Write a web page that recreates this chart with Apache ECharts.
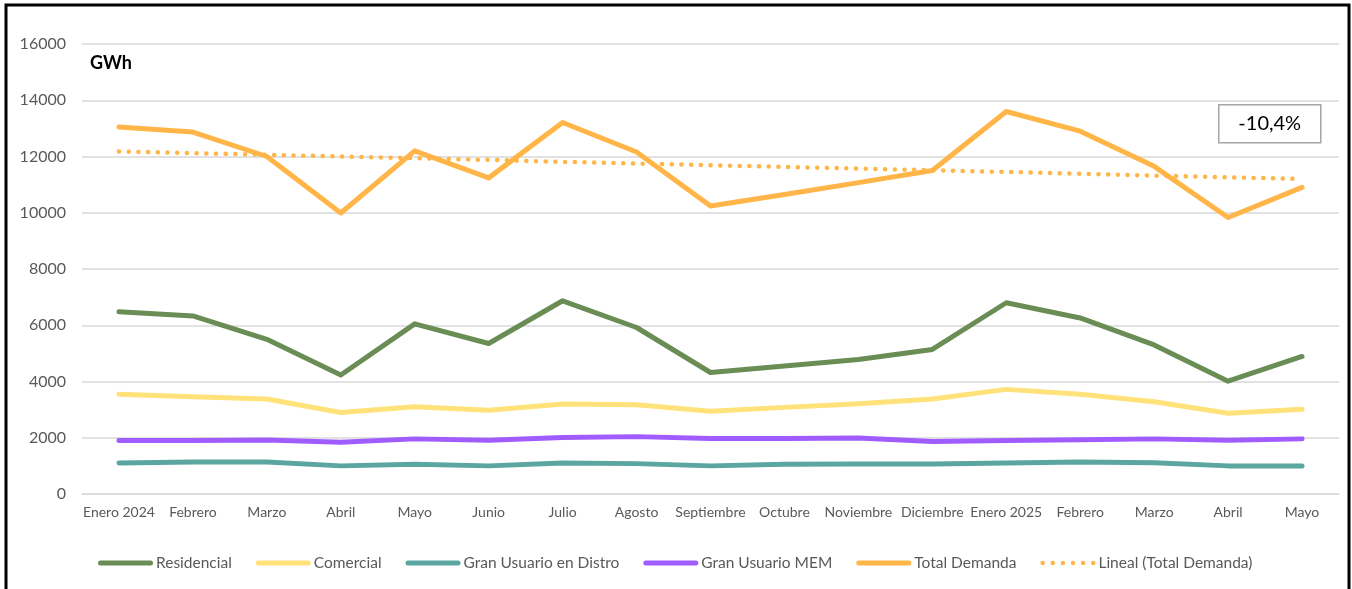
<!DOCTYPE html>
<html>
<head>
<meta charset="utf-8">
<script src="https://cdn.jsdelivr.net/npm/echarts@6/dist/echarts.min.js"></script>
<style>
html,body{margin:0;padding:0;background:#fff;}
#c{width:1352px;height:589px;}
</style>
</head>
<body>
<div id="c"></div>
<script>
const categories = ['Enero 2024','Febrero','Marzo','Abril','Mayo','Junio','Julio','Agosto','Septiembre','Octubre','Noviembre','Diciembre','Enero 2025','Febrero','Marzo','Abril','Mayo'];
const residencial = [6480,6330,5500,4230,6050,5350,6870,5920,4320,4550,4780,5140,6800,6260,5300,4010,4890];
const comercial = [3550,3460,3380,2900,3100,2980,3200,3170,2940,3080,3210,3380,3720,3550,3280,2870,3010];
const granUsuarioDistro = [1100,1140,1140,1000,1060,1000,1100,1080,1000,1060,1070,1070,1100,1140,1110,1000,1000];
const granUsuarioMEM = [1900,1900,1920,1840,1960,1910,2010,2040,1970,1970,1990,1870,1900,1930,1960,1910,1960];
const totalDemanda = [13050,12870,12000,9990,12200,11240,13210,12160,10240,10650,11070,11500,13600,12900,11650,9830,10900];
const linealTotal = [12180,12120,12060,12000,11940,11880,11810,11750,11690,11630,11570,11510,11450,11390,11320,11260,11200];
const yTicks = [0,2000,4000,6000,8000,10000,12000,14000,16000];
const unitLabel = 'GWh';
const changeLabel = '-10,4%';

const FONT = 'Lato';
const chart = echarts.init(document.getElementById('c'), null, {renderer:'canvas'});

function lineSeries(name, data, color, dotted){
  return {
    name: name, type: 'line', data: data, symbol: 'none', smooth: false,
    lineStyle: dotted
      ? {color: color, width: 4.5, type: [0.1, 9.6], cap: 'round'}
      : {color: color, width: 5, cap: 'round', join: 'round'},
    itemStyle: {color: color},
    emphasis: {disabled: true},
    z: dotted ? 3 : 2
  };
}

const solidIcon = 'path://M2.5,0 L52.5,0 A2.5,2.5 0 0 1 52.5,5 L2.5,5 A2.5,2.5 0 0 1 2.5,0 Z';
let dots = '';
for (let i = 0; i < 6; i++) {
  const cx = 2.5 + i * 10;
  dots += 'M' + (cx - 2.2) + ',2.5 A2.2,2.2 0 1 0 ' + (cx + 2.2) + ',2.5 A2.2,2.2 0 1 0 ' + (cx - 2.2) + ',2.5 Z ';
}
const dottedIcon = 'path://' + dots;

chart.setOption({
  animation: false,
  backgroundColor: '#ffffff',
  textStyle: {fontFamily: FONT},
  grid: {left: 82, right: 13, top: 44, bottom: 95, containLabel: false},
  xAxis: {
    type: 'category', data: categories, boundaryGap: true,
    axisLine: {show: true, lineStyle: {color: '#d9d9d9', width: 1.5}},
    axisTick: {show: false},
    axisLabel: {color: '#595959', fontSize: 14, fontFamily: FONT, margin: 11, interval: 0}
  },
  yAxis: {
    type: 'value', min: yTicks[0], max: yTicks[yTicks.length-1], interval: 2000,
    axisLine: {show: false}, axisTick: {show: false},
    axisLabel: {color: '#595959', fontSize: 16, fontFamily: FONT, margin: 16, formatter: function(v){ return String(v); }},
    splitLine: {lineStyle: {color: '#d9d9d9', width: 1.5}}
  },
  legend: {
    bottom: 13, left: 93, itemWidth: 55, itemHeight: 5, itemGap: 24,
    textStyle: {color: '#595959', fontSize: 15.5, fontFamily: FONT, padding: [0,0,0,-2]},
    data: [
      {name: 'Residencial', icon: solidIcon},
      {name: 'Comercial', icon: solidIcon},
      {name: 'Gran Usuario en Distro', icon: solidIcon},
      {name: 'Gran Usuario MEM', icon: solidIcon},
      {name: 'Total Demanda', icon: solidIcon},
      {name: 'Lineal (Total Demanda)', icon: dottedIcon}
    ]
  },
  graphic: [
    {type: 'rect', silent: true, shape: {x: 6, y: 5, width: 1343, height: 620}, style: {fill: 'none', stroke: '#000', lineWidth: 3}},
    {type: 'text', left: 90, top: 54, style: {text: unitLabel, fill: '#000', font: 'bold 18px ' + FONT}},
    {type: 'group', left: 1218, top: 104, children: [
      {type: 'rect', shape: {x: 0, y: 0, width: 102, height: 38}, style: {fill: '#fff', stroke: '#a6a6a6', lineWidth: 1.5}},
      {type: 'text', x: 51, y: 19, style: {text: changeLabel, fill: '#000', font: '20px ' + FONT, align: 'center', verticalAlign: 'middle'}}
    ]}
  ],
  series: [
    lineSeries('Residencial', residencial, '#6A8D55'),
    lineSeries('Comercial', comercial, '#FFE27A'),
    lineSeries('Gran Usuario en Distro', granUsuarioDistro, '#5BA6A0'),
    lineSeries('Gran Usuario MEM', granUsuarioMEM, '#A05CFF'),
    lineSeries('Total Demanda', totalDemanda, '#FFB547'),
    lineSeries('Lineal (Total Demanda)', linealTotal, '#FFB547', true)
  ]
});
</script>
</body>
</html>
